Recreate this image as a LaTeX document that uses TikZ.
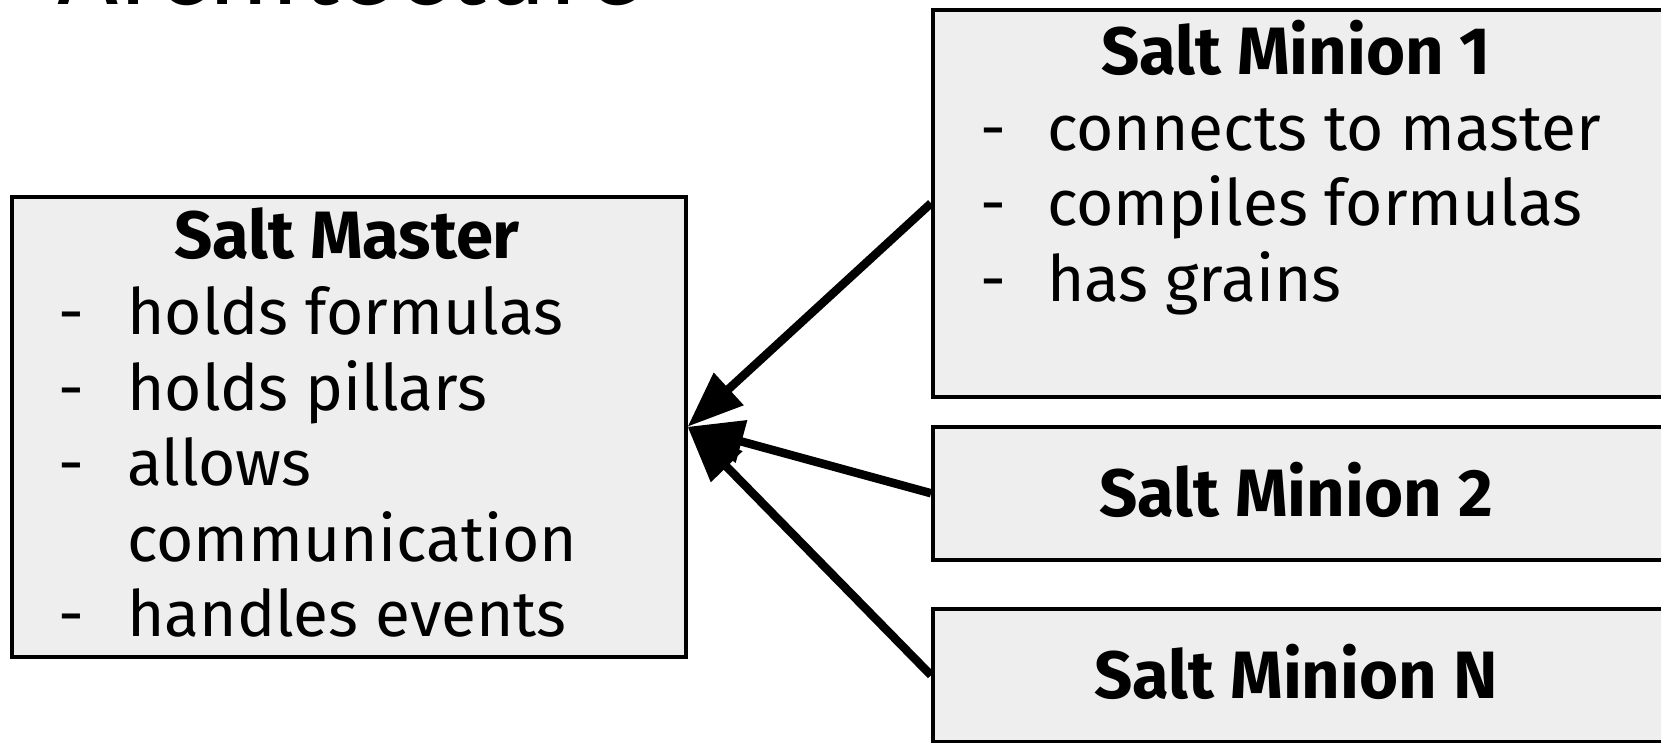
\documentclass[tikz,border=0pt]{standalone}
\usepackage{fontspec}
\setmainfont{Fira Sans}
\usetikzlibrary{arrows.meta}
\begin{document}
\begin{tikzpicture}[x=1pt,y=-1pt,
  box/.style={draw=black, fill=boxgray, line width=3.5pt, inner sep=0pt, anchor=north west},
  heading/.style={anchor=base, inner sep=0pt, font=\fontsize{67}{75.5}\selectfont\bfseries},
  items/.style={anchor=base west, inner sep=0pt, font=\fontsize{64}{75.5}\selectfont},
  titletext/.style={anchor=base west, inner sep=0pt, font=\fontsize{107}{120}\selectfont},
  arr/.style={line width=8.5pt, -{Triangle[length=56pt,width=42pt]}}]
\definecolor{boxgray}{HTML}{EEEEEE}
\useasboundingbox (0,0) rectangle (1661,742);
\node[titletext] (title) at (57,4) {Architecture};
% boxes
\node[box, minimum width=674pt, minimum height=460pt] (master) at (10,195) {};
\node[box, minimum width=730pt, minimum height=387pt] (m1) at (931,8) {};
\node[box, minimum width=730pt, minimum height=133pt] (m2) at (931,425) {};
\node[box, minimum width=730pt, minimum height=133pt] (mN) at (931,607) {};
% master text
\node[heading] (masterhead) at (347,258.5) {Salt Master};
\node[items] (masteritems) at (58,334.7) {\begin{tabular}[t]{@{}p{69pt}@{}l@{}}
-&holds formulas\\
-&holds pillars\\
-&allows\\
&communication\\
-&handles events
\end{tabular}};
% minion 1 text
\node[heading] (m1head) at (1296,74) {Salt Minion 1};
\node[items] (m1items) at (980,150.4) {\begin{tabular}[t]{@{}p{67pt}@{}l@{}}
-&connects to master\\
-&compiles formulas\\
-&has grains
\end{tabular}};
\node[heading] (m2head) at (1296,516) {Salt Minion 2};
\node[heading] (mNhead) at (1296,698) {Salt Minion N};
% connectors
\draw[arr] (m1.west) -- (master.east);
\draw[arr] (m2.west) -- (master.east);
\draw[arr] (mN.west) -- (master.east);
\end{tikzpicture}
\end{document}
